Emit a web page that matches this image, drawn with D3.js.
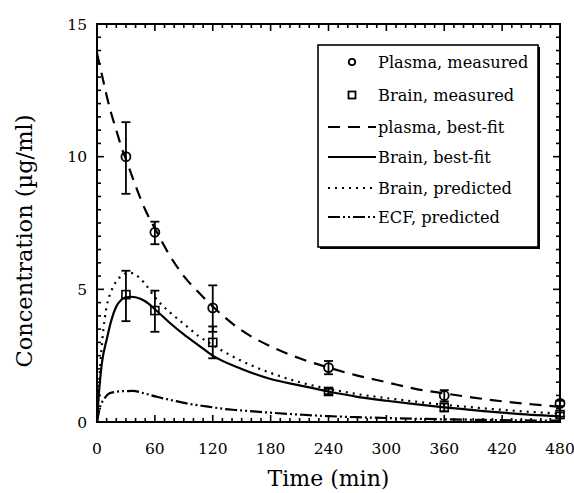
<!DOCTYPE html>
<html><head><meta charset="utf-8">
<script src="https://cdn.jsdelivr.net/npm/d3@7"></script>
<style>body{margin:0;background:#fff}svg{display:block}text{font-family:"DejaVu Serif",serif;fill:#000}</style>
</head><body>
<svg id="c" width="574" height="493"></svg>
<script>
// ---- data ----
const xTicks = [0,60,120,180,240,300,360,420,480];
const yTicks = [0,5,10,15];
const measT = [30,60,120,240,360,480];
const plasmaV  = [10.0,7.15,4.3,2.05,1.0,0.7];
const plasmaLo = [8.6,6.7,3.4,1.8,0.78,0.6];
const plasmaHi = [11.3,7.55,5.15,2.3,1.2,0.8];
const brainV  = [4.8,4.2,3.0,1.15,0.55,0.28];
const brainLo = [3.8,3.4,2.4,1.05,0.4,0.2];
const brainHi = [5.7,4.95,3.6,1.25,0.7,0.36];

const plasmaFitT = [0,5,10,15,20,25,30,35,40,50,60,75,90,105,120,150,180,210,240,270,300,330,360,390,420,450,480];
const plasmaFitV = [13.9,13.1,12.3,11.6,11.0,10.4,9.9,9.4,8.9,8.0,7.3,6.3,5.5,4.9,4.35,3.45,2.85,2.4,2.05,1.75,1.5,1.25,1.08,0.92,0.78,0.67,0.57];
const brainFitT = [0,1,2,5,10,15,20,25,30,35,40,50,60,75,90,105,120,150,180,210,240,270,300,330,360,390,420,450,480];
const brainFitV = [0,0.6,1.1,2.2,3.1,3.85,4.35,4.6,4.7,4.72,4.7,4.55,4.25,3.75,3.3,2.9,2.5,2.0,1.62,1.38,1.15,0.95,0.8,0.67,0.55,0.45,0.35,0.27,0.22];
const brainPredT = [0,2,5,8,10,15,20,25,30,35,40,50,60,75,90,105,120,150,180,210,240,270,300,330,360,390,420,450,480];
const brainPredV = [0,1.4,2.9,3.9,4.35,4.95,5.3,5.5,5.6,5.62,5.55,5.2,4.7,4.15,3.7,3.25,2.9,2.3,1.85,1.5,1.25,1.05,0.9,0.77,0.65,0.55,0.46,0.38,0.32];
const ecfT = [0,3,7,13,20,27,37,50,62,80,96,115,130,145,180,210,240,270,300,360,420,480];
const ecfV = [0,0.55,0.85,1.08,1.14,1.16,1.17,1.07,0.95,0.8,0.68,0.58,0.5,0.45,0.35,0.28,0.22,0.18,0.15,0.1,0.07,0.05];

const legendLabels = ["Plasma, measured","Brain, measured","plasma, best-fit","Brain, best-fit","Brain, predicted","ECF, predicted"];

// ---- layout ----
const svg = d3.select("#c");
const L=97, R=560, T=24, B=422;
const x = d3.scaleLinear().domain([0,480]).range([L,R]);
const y = d3.scaleLinear().domain([0,15]).range([B,T]);

const g = svg.append("g");
const line = d3.line().x(d=>x(d[0])).y(d=>y(d[1])).curve(d3.curveMonotoneX);
const styles = {
  dash:{w:2.2,da:"12,8"},
  solid:{w:2.2,da:null},
  dot:{w:2.2,da:"2,5"},
  ecf:{w:2.2,da:"12,3,2,3,2,3"}
};
function drawCurve(ts,vs,st){
  g.append("path").attr("d",line(ts.map((t,i)=>[t,vs[i]])))
   .attr("fill","none").attr("stroke","#000").attr("stroke-width",st.w)
   .attr("stroke-dasharray",st.da);
}
drawCurve(plasmaFitT,plasmaFitV,styles.dash);
drawCurve(brainFitT,brainFitV,styles.solid);
drawCurve(brainPredT,brainPredV,styles.dot);
drawCurve(ecfT,ecfV,styles.ecf);

function errBars(vLo,vHi){
  measT.forEach((t,i)=>{
    const xx=x(t);
    g.append("line").attr("x1",xx).attr("x2",xx).attr("y1",y(vLo[i])).attr("y2",y(vHi[i])).attr("stroke","#000").attr("stroke-width",1.8);
    [vLo[i],vHi[i]].forEach(v=>g.append("line").attr("x1",xx-4.5).attr("x2",xx+4.5).attr("y1",y(v)).attr("y2",y(v)).attr("stroke","#000").attr("stroke-width",1.8));
  });
}
errBars(plasmaLo,plasmaHi);
errBars(brainLo,brainHi);
measT.forEach((t,i)=>{
  g.append("circle").attr("cx",x(t)).attr("cy",y(plasmaV[i])).attr("r",4.5).attr("fill","none").attr("stroke","#000").attr("stroke-width",1.8);
  g.append("rect").attr("x",x(t)-4).attr("y",y(brainV[i])-4).attr("width",8).attr("height",8).attr("fill","none").attr("stroke","#000").attr("stroke-width",1.6);
});

svg.append("rect").attr("x",L).attr("y",T).attr("width",R-L).attr("height",B-T).attr("fill","none").attr("stroke","#000").attr("stroke-width",2);
const xMinor = d3.range(0,481,10), yMinor = d3.range(0,15.01,0.5);
const tk = svg.append("g").attr("stroke","#000").attr("stroke-width",1.6);
xMinor.forEach(t=>{
  const len = (t%60===0)?7:4;
  tk.append("line").attr("x1",x(t)).attr("x2",x(t)).attr("y1",B).attr("y2",B-len);
  tk.append("line").attr("x1",x(t)).attr("x2",x(t)).attr("y1",T).attr("y2",T+len);
});
yMinor.forEach(v=>{
  const len = (Math.abs(v%5)<1e-6)?7:4;
  tk.append("line").attr("x1",L).attr("x2",L+len).attr("y1",y(v)).attr("y2",y(v));
  tk.append("line").attr("x1",R).attr("x2",R-len).attr("y1",y(v)).attr("y2",y(v));
});
xTicks.forEach(t=>svg.append("text").attr("x",x(t)).attr("y",454).attr("text-anchor","middle").attr("font-size",15.5).text(t));
yTicks.forEach(v=>svg.append("text").attr("x",87).attr("y",y(v)+5.5).attr("text-anchor","end").attr("font-size",15.5).text(v));
svg.append("text").attr("x",(L+R)/2).attr("y",486).attr("text-anchor","middle").attr("font-size",22).text("Time (min)");
svg.append("text").attr("transform","translate(32,241) rotate(-90)").attr("text-anchor","middle").attr("font-size",22.5).text("Concentration (µg/ml)");

const lg = svg.append("g");
lg.append("rect").attr("x",320).attr("y",47).attr("width",220).attr("height",202).attr("fill","#000");
lg.append("rect").attr("x",318).attr("y",45).attr("width",220).attr("height",202).attr("fill","#fff").attr("stroke","#000").attr("stroke-width",1.6);
const rows=[62,95,127,157,188,217];
rows.forEach((ry,i)=>{
  lg.append("text").attr("x",378).attr("y",ry+5.5).attr("font-size",16.2).text(legendLabels[i]);
});
lg.append("circle").attr("cx",352).attr("cy",rows[0]).attr("r",3.2).attr("fill","none").attr("stroke","#000").attr("stroke-width",1.8);
lg.append("rect").attr("x",348.5).attr("y",rows[1]-3.5).attr("width",7).attr("height",7).attr("fill","none").attr("stroke","#000").attr("stroke-width",1.8);
[styles.dash,styles.solid,styles.dot,styles.ecf].forEach((st,i)=>{
  lg.append("line").attr("x1",328).attr("x2",376).attr("y1",rows[i+2]).attr("y2",rows[i+2])
    .attr("stroke","#000").attr("stroke-width",st.w).attr("stroke-dasharray",st.da);
});
</script>
</body></html>
